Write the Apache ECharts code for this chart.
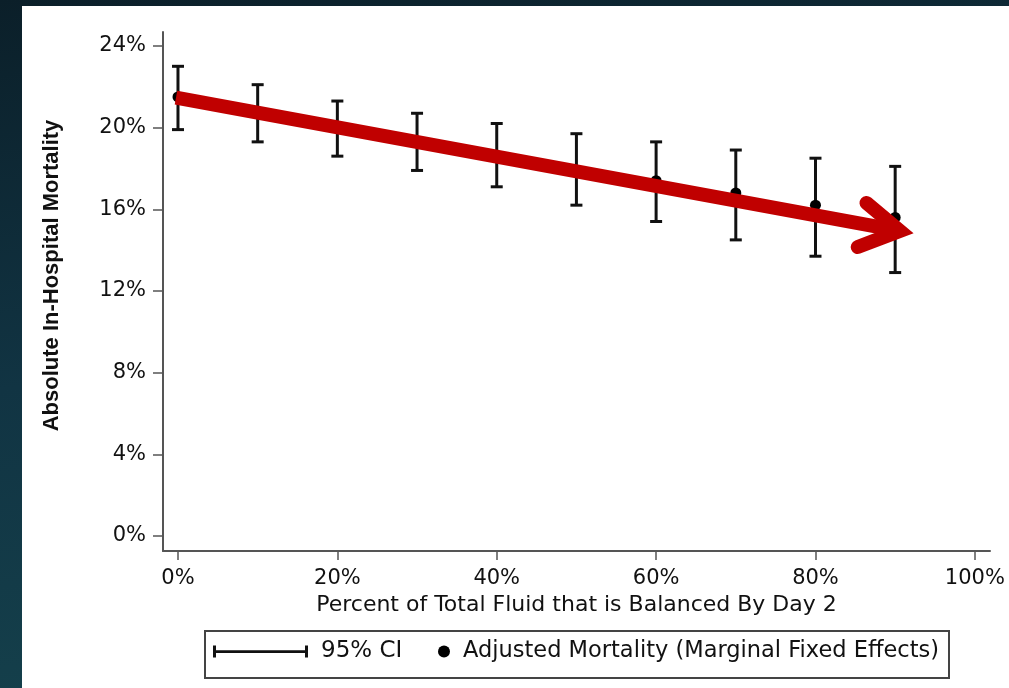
<!DOCTYPE html>
<html>
<head>
<meta charset="utf-8">
<script src="https://cdn.jsdelivr.net/npm/echarts@6/dist/echarts.min.js"></script>
<style>
  html, body { margin: 0; padding: 0; }
  body {
    width: 1009px; height: 688px; overflow: hidden; position: relative;
    background: linear-gradient(170deg, #0b1f29 0%, #113443 45%, #16454f 100%);
  }
  #panel { position: absolute; left: 22px; top: 6px; right: 0; bottom: 0; background: #fff; }
  #chart { position: absolute; left: 0; top: 0; width: 1009px; height: 688px; }
</style>
</head>
<body>
<div id="panel"></div>
<div id="chart"></div>
<script>
// balanced fluid share (%)
var balancedPct = [0, 10, 20, 30, 40, 50, 60, 70, 80, 90]
// adjusted mortality (%) and 95% CI
var mortality = [21.5, 20.7, 20.0, 19.3, 18.6, 17.9, 17.4, 16.8, 16.2, 15.6]
var ciLower = [19.9, 19.3, 18.6, 17.9, 17.1, 16.2, 15.4, 14.5, 13.7, 12.9]
var ciUpper = [23.0, 22.1, 21.3, 20.7, 20.2, 19.7, 19.3, 18.9, 18.5, 18.1]
// tick labels
var xTicks = [0, 20, 40, 60, 80, 100]
var yTicks = [0, 4, 8, 12, 16, 20, 24]
// red trend arrow (annotation), in data units
var arrowShaft = [[-0.25, 21.47], [90.6, 14.94]]
var arrowHead = [[86.4, 16.31], [90.6, 14.94], [85.3, 14.15]]

var ciName = '95% CI'
var meanName = 'Adjusted Mortality (Marginal Fixed Effects)'

var ciData = balancedPct.map(function (x, i) {
  return [x, ciLower[i], ciUpper[i]]
})
var meanData = balancedPct.map(function (x, i) {
  return [x, mortality[i]]
})

var tickFont = 'DejaVu Sans'
var textColor = '#111'
var myChart = echarts.init(document.getElementById('chart'))

myChart.setOption({
  animation: false,
  backgroundColor: 'transparent',
  grid: { left: 163, right: 19, top: 32, bottom: 137 },
  xAxis: {
    type: 'value',
    min: -1.88,
    max: 101.9,
    name: 'Percent of Total Fluid that is Balanced By Day 2',
    nameLocation: 'middle',
    nameGap: 42,
    nameTextStyle: { fontFamily: tickFont, fontSize: 22, color: textColor },
    axisLine: { onZero: false, lineStyle: { color: '#555', width: 2 } },
    axisTick: { show: true, length: 9, customValues: xTicks, lineStyle: { color: '#555', width: 1.5 } },
    axisLabel: {
      customValues: xTicks,
      margin: 17,
      fontFamily: tickFont,
      fontSize: 21,
      color: textColor,
      formatter: function (v) { return v + '%' },
    },
    splitLine: { show: false },
  },
  yAxis: {
    type: 'value',
    min: -0.735,
    max: 24.68,
    name: 'Absolute In-Hospital Mortality',
    nameLocation: 'middle',
    nameRotate: 90,
    nameGap: 100,
    nameTextStyle: {
      fontFamily: 'Liberation Sans',
      fontWeight: 'bold',
      fontSize: 22,
      color: textColor,
      padding: [0, 0, 0, 32],
    },
    axisLine: { show: true, onZero: false, lineStyle: { color: '#555', width: 2 } },
    axisTick: { show: true, length: 10, customValues: yTicks, lineStyle: { color: '#555', width: 1.5 } },
    axisLabel: {
      customValues: yTicks,
      margin: 17,
      fontFamily: tickFont,
      fontSize: 21,
      color: textColor,
      formatter: function (v) { return v + '%' },
    },
    splitLine: { show: false },
  },
  legend: [
    {
      data: [{ name: ciName, icon: 'path://M0,0h3v12h-3z M0,4.8h95v2.6h-95z M92,0h3v12h-3z' }],
      left: 213,
      top: 640,
      padding: 0,
      itemWidth: 95,
      itemHeight: 12,
      selectedMode: false,
      textStyle: { fontFamily: tickFont, fontSize: 23, color: textColor, padding: [0, 0, 0, 8] },
    },
    {
      data: [{ name: meanName, icon: 'circle', itemStyle: { color: '#000', opacity: 1 } }],
      left: 438,
      top: 640,
      padding: 0,
      itemWidth: 12,
      itemHeight: 12,
      selectedMode: false,
      textStyle: { fontFamily: tickFont, fontSize: 22.5, color: textColor, padding: [0, 0, 0, 8] },
    },
  ],
  graphic: [
    {
      type: 'rect',
      left: 204,
      top: 630,
      shape: { width: 744, height: 47 },
      style: { fill: 'transparent', stroke: '#444', lineWidth: 2 },
      silent: true,
    },
  ],
  series: [
    {
      name: ciName,
      type: 'custom',
      itemStyle: { color: '#111' },
      encode: { x: 0, y: [1, 2] },
      data: ciData,
      z: 2,
      renderItem: function (params, api) {
        var x = api.value(0)
        var top = api.coord([x, api.value(2)])
        var bot = api.coord([x, api.value(1)])
        var half = 6
        var st = { stroke: '#111', lineWidth: 3 }
        return {
          type: 'group',
          children: [
            { type: 'line', shape: { x1: top[0], y1: top[1], x2: bot[0], y2: bot[1] }, style: st },
            { type: 'line', shape: { x1: top[0] - half, y1: top[1], x2: top[0] + half, y2: top[1] }, style: st },
            { type: 'line', shape: { x1: bot[0] - half, y1: bot[1], x2: bot[0] + half, y2: bot[1] }, style: st },
          ],
        }
      },
    },
    {
      name: meanName,
      type: 'scatter',
      symbol: 'circle',
      symbolSize: 11,
      itemStyle: { color: '#000', opacity: 1 },
      data: meanData,
      z: 3,
    },
    {
      name: 'arrow',
      type: 'line',
      symbol: 'none',
      data: arrowShaft,
      lineStyle: { color: '#C00000', width: 14, cap: 'butt' },
      silent: true,
      z: 5,
    },
    {
      name: 'arrowHead',
      type: 'line',
      symbol: 'none',
      data: arrowHead,
      lineStyle: { color: '#C00000', width: 14, cap: 'round', join: 'miter' },
      silent: true,
      z: 5,
    },
  ],
})
</script>
</body>
</html>
